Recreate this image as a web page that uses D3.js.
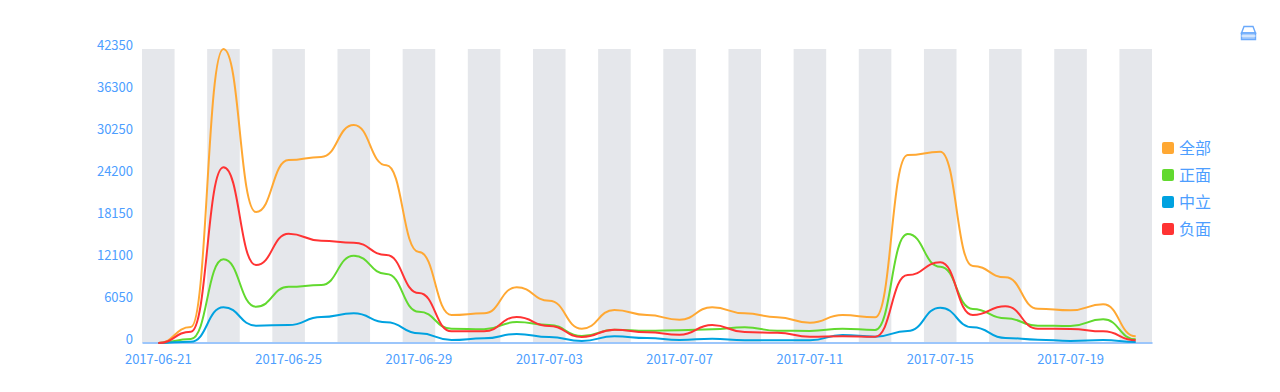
<!DOCTYPE html>
<html>
<head>
<meta charset="utf-8">
<script src="https://cdnjs.cloudflare.com/ajax/libs/d3/7.8.5/d3.min.js"></script>
<style>
html, body { margin: 0; padding: 0; background: #fff; overflow: hidden; }
svg { display: block; }
text { font-family: "Noto Sans CJK SC", "Noto Sans", sans-serif; }
</style>
</head>
<body>
<div id="chart"></div>
<script>
var days = ["2017-06-21","2017-06-22","2017-06-23","2017-06-24","2017-06-25","2017-06-26","2017-06-27","2017-06-28","2017-06-29","2017-06-30",
	"2017-07-01","2017-07-02","2017-07-03","2017-07-04","2017-07-05","2017-07-06","2017-07-07","2017-07-08","2017-07-09","2017-07-10",
	"2017-07-11","2017-07-12","2017-07-13","2017-07-14","2017-07-15","2017-07-16","2017-07-17","2017-07-18","2017-07-19","2017-07-20","2017-07-21"];

var yTicks = [0, 6050, 12100, 18150, 24200, 30250, 36300, 42350];

var allValues = [0,2300,42350,18860,26350,26800,31400,25600,13100,4030,4270,8020,6090,2060,4750,4030,3360,5140,4270,3700,2920,4030,3700,27070,27550,11090,9460,4940,4700,5570,960];
var posValues = [0,580,12050,5230,8100,8350,12570,9940,4500,2060,1970,3020,2590,1000,1920,1770,1830,1970,2260,1770,1730,2060,1870,15700,10990,4900,3550,2500,2450,3410,530];
var neuValues = [0,190,5140,2500,2590,3740,4270,2980,1400,430,670,1300,860,290,960,720,430,620,400,400,400,1150,910,1730,5090,2260,720,480,290,430,140];
var negValues = [0,1630,25300,11230,15740,14730,14440,12670,7200,1680,1680,3740,2450,860,1920,1540,1200,2590,1580,1480,910,960,910,9790,11620,4030,5280,2060,2020,1680,390];

var seriesNames = ["全部", "正面", "中立", "负面"];
var seriesColors = ["#ffa833", "#62d92f", "#00a2e0", "#ff3333"];
var seriesValues = [allValues, posValues, neuValues, negValues];

var width = 1280, height = 392;
var margin = {top: 49, right: 128, bottom: 49, left: 142};
var labelColor = "#4d9eff";

var svg = d3.select("#chart").append("svg").attr("width", width).attr("height", height);

var x = d3.scaleBand().domain(days).range([margin.left, width - margin.right]);
var y = d3.scaleLinear().domain([0, 42350]).range([height - margin.bottom, margin.top]);

// alternating stripes behind the plot
svg.append("g").selectAll("rect")
	.data(days.filter(function (d, i) { return i % 2 == 0; }))
	.enter().append("rect")
	.attr("x", function (d) { return x(d); })
	.attr("y", margin.top)
	.attr("width", x.bandwidth())
	.attr("height", y(0) - margin.top)
	.style("fill", "#e5e7eb");

var xAxis = d3.axisBottom(x)
	.tickValues(days.filter(function (d, i) { return i % 4 == 0; }))
	.tickSize(0)
	.tickPadding(12);

var gx = svg.append("g").attr("transform", "translate(0," + (y(0) - 0.5) + ")").call(xAxis);
gx.select(".domain").style("stroke", "#9cc6fb").style("stroke-width", 2);
gx.selectAll("text").style("fill", labelColor).style("font-size", "13px");

var yAxis = d3.axisLeft(y).tickValues(yTicks).tickSize(0).tickPadding(9).tickFormat(d3.format("d"));
var gy = svg.append("g").attr("transform", "translate(" + margin.left + ",-4)").call(yAxis);
gy.select(".domain").remove();
gy.selectAll("text").style("fill", labelColor).style("font-size", "13px");

var line = d3.line()
	.x(function (d, i) { return x(days[i]) + x.bandwidth() / 2; })
	.y(function (d) { return y(d); })
	.curve(d3.curveBumpX);

svg.append("g").selectAll("path")
	.data(seriesValues)
	.enter().append("path")
	.attr("d", line)
	.style("fill", "none")
	.style("stroke-width", 2)
	.style("stroke", function (d, i) { return seriesColors[i]; });

var legendY = d3.scalePoint().domain(seriesNames).range([148, 229]);

var legend = svg.append("g").selectAll("g")
	.data(seriesNames)
	.enter().append("g")
	.attr("transform", function (d) { return "translate(1162," + legendY(d) + ")"; });

legend.append("rect")
	.attr("y", -6).attr("width", 12).attr("height", 12).attr("rx", 2)
	.style("fill", function (d, i) { return seriesColors[i]; });

legend.append("text")
	.attr("x", 17).attr("dy", "0.36em")
	.style("font-size", "16px")
	.style("fill", labelColor)
	.text(function (d) { return d; });

// toolbox save icon
var icon = svg.append("g").attr("transform", "translate(1241,25)")
	.style("fill", "none").style("stroke", "#6aa9fb").style("stroke-width", 1.4);
icon.append("path").attr("d", "M3 1.5H12L14.5 8H0.5Z");
icon.append("path").attr("d", "M0.5 8H14.5V14.5H0.5Z").style("fill", "#a9cdfb");
icon.append("path").attr("d", "M0.5 11H14.5").style("stroke", "#fff").style("stroke-width", 1);
</script>
</body>
</html>
